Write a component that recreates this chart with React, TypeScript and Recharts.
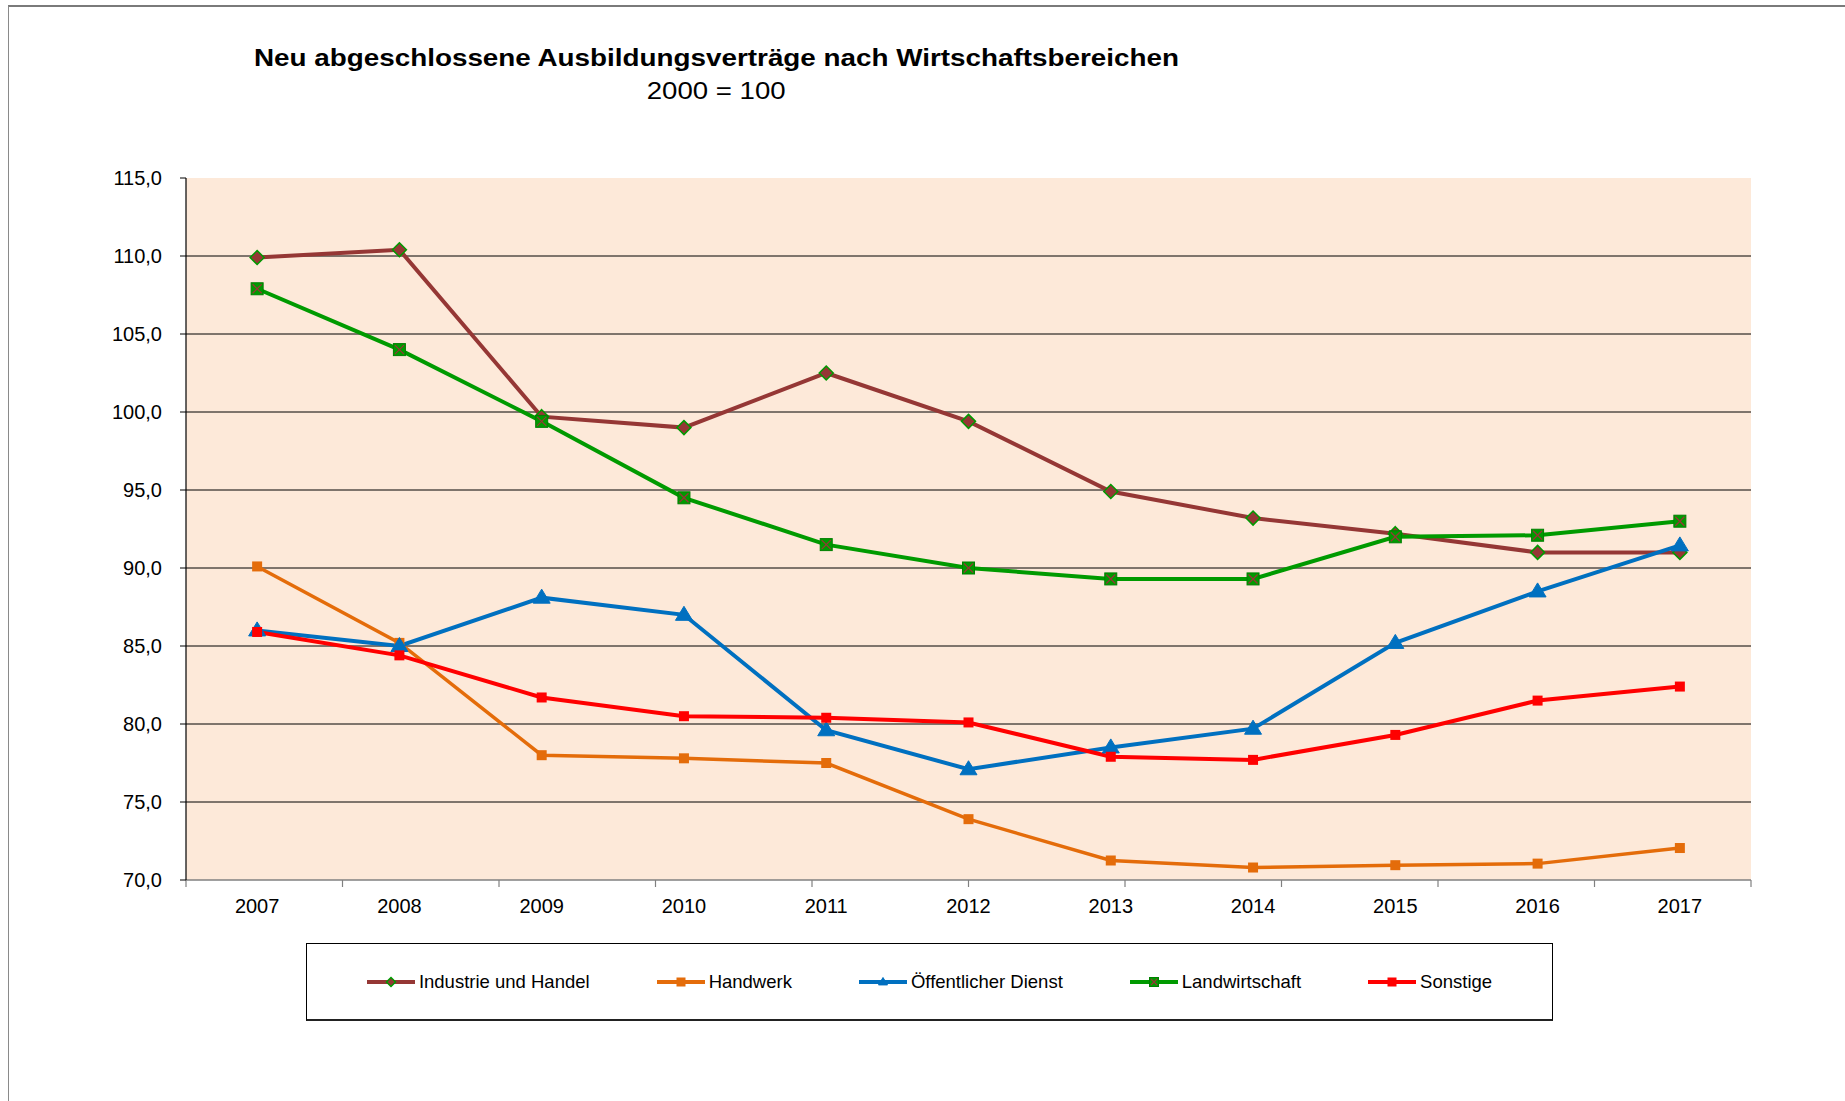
import React from 'react';
import { LineChart, Line, XAxis, YAxis, CartesianGrid } from 'recharts';

const years = ['2007', '2008', '2009', '2010', '2011', '2012', '2013', '2014', '2015', '2016', '2017'];
const industrie = [109.9, 110.4, 99.7, 99.0, 102.5, 99.4, 94.9, 93.2, 92.2, 91.0, 91.0];
const handwerk = [90.1, 85.2, 78.0, 77.8, 77.5, 73.9, 71.25, 70.8, 70.95, 71.05, 72.05];
const oeffentlich = [86.0, 85.0, 88.1, 87.0, 79.6, 77.1, 78.5, 79.7, 85.2, 88.5, 91.45];
const landwirtschaft = [107.9, 104.0, 99.4, 94.5, 91.5, 90.0, 89.3, 89.3, 92.0, 92.1, 93.0];
const sonstige = [85.9, 84.4, 81.7, 80.5, 80.4, 80.1, 77.9, 77.7, 79.3, 81.5, 82.4];

const yTicks = [70, 75, 80, 85, 90, 95, 100, 105, 110, 115];
const gridValues = [75, 80, 85, 90, 95, 100, 105, 110];
const boundaryTicks = [0, 1, 2, 3, 4, 5, 6, 7, 8, 9, 10, 11];

const title = 'Neu abgeschlossene Ausbildungsverträge nach Wirtschaftsbereichen';
const subtitle = '2000 = 100';

const FONT = "'Liberation Sans', Arial, sans-serif";

const data = years.map((y, i) => ({
  year: y,
  industrie: industrie[i],
  handwerk: handwerk[i],
  oeffentlich: oeffentlich[i],
  landwirtschaft: landwirtschaft[i],
  sonstige: sonstige[i],
}));

type Shape = 'diamond' | 'square' | 'triangle' | 'xsquare';

const series: { key: string; name: string; color: string; shape: Shape; size: number; width: number }[] = [
  { key: 'industrie', name: 'Industrie und Handel', color: '#953735', shape: 'diamond', size: 7, width: 4 },
  { key: 'handwerk', name: 'Handwerk', color: '#E46C0A', shape: 'square', size: 5, width: 3.5 },
  { key: 'oeffentlich', name: 'Öffentlicher Dienst', color: '#0070C0', shape: 'triangle', size: 8.5, width: 4 },
  { key: 'landwirtschaft', name: 'Landwirtschaft', color: '#009A00', shape: 'xsquare', size: 6, width: 4 },
  { key: 'sonstige', name: 'Sonstige', color: '#FF0000', shape: 'square', size: 5, width: 4 },
];

function Marker({ cx, cy, shape, color, s }: { cx: number; cy: number; shape: Shape; color: string; s: number }) {
  if (shape === 'diamond') {
    return (
      <polygon
        points={`${cx},${cy - s} ${cx + s},${cy} ${cx},${cy + s} ${cx - s},${cy}`}
        fill={color}
        stroke="#009A00"
        strokeWidth={1.5}
      />
    );
  }
  if (shape === 'triangle') {
    return (
      <polygon
        points={`${cx},${cy - s} ${cx + s},${cy + s * 0.65} ${cx - s},${cy + s * 0.65}`}
        fill={color}
        stroke={color}
        strokeWidth={1}
      />
    );
  }
  if (shape === 'xsquare') {
    const d = s - 1.5;
    return (
      <g>
        <rect x={cx - s} y={cy - s} width={s * 2} height={s * 2} fill={color} stroke="#008000" strokeWidth={1} />
        <line x1={cx - d} y1={cy - d} x2={cx + d} y2={cy + d} stroke="#953735" strokeWidth={1.3} />
        <line x1={cx - d} y1={cy + d} x2={cx + d} y2={cy - d} stroke="#953735" strokeWidth={1.3} />
      </g>
    );
  }
  return <rect x={cx - s} y={cy - s} width={s * 2} height={s * 2} fill={color} />;
}

function makeDot(shape: Shape, color: string, s: number) {
  return (props: any) => {
    const { cx, cy, index } = props;
    if (cx == null || cy == null) return <g key={`e-${index}`} />;
    return (
      <g key={`d-${index}`}>
        <Marker cx={cx} cy={cy} shape={shape} color={color} s={s} />
      </g>
    );
  };
}

function LegendBox() {
  return (
    <div
      style={{
        position: 'absolute',
        left: 306,
        top: 943,
        width: 1247,
        height: 78,
        boxSizing: 'border-box',
        border: '1px solid #000',
        borderBottom: '2px solid #222',
        display: 'flex',
        alignItems: 'center',
        justifyContent: 'center',
        gap: 67,
        fontFamily: FONT,
        fontSize: 18.5,
        color: '#000',
        background: '#fff',
      }}
    >
      {series.map((s) => (
        <div key={s.key} style={{ display: 'flex', alignItems: 'center' }}>
          <svg width={48} height={16} style={{ display: 'block' }}>
            <line x1={0} y1={8} x2={48} y2={8} stroke={s.color} strokeWidth={4} />
            <Marker cx={24} cy={8} shape={s.shape} color={s.color} s={4.5} />
          </svg>
          <span style={{ marginLeft: 4, whiteSpace: 'nowrap' }}>{s.name}</span>
        </div>
      ))}
    </div>
  );
}

export default function App() {
  return (
    <div style={{ position: 'absolute', left: 0, top: 0, width: 1845, height: 1101, background: '#fff', overflow: 'hidden' }}>
      <div
        style={{
          position: 'absolute',
          left: 8,
          top: 5,
          width: 1845,
          height: 1101,
          borderTop: '2px solid #7a7a7a',
          borderLeft: '1px solid #8a8a8a',
        }}
      />
      <svg width={1845} height={120} style={{ position: 'absolute', left: 0, top: 0 }}>
        <text
          x={716.5}
          y={65.7}
          textAnchor="middle"
          fontFamily={FONT}
          fontWeight="bold"
          fontSize={23}
          textLength={925}
          lengthAdjust="spacingAndGlyphs"
          fill="#000"
        >
          {title}
        </text>
        <text
          x={716.2}
          y={99.3}
          textAnchor="middle"
          fontFamily={FONT}
          fontSize={24}
          textLength={139}
          lengthAdjust="spacingAndGlyphs"
          fill="#000"
        >
          {subtitle}
        </text>
      </svg>
      <div style={{ position: 'absolute', left: 0, top: 0 }}>
        <LineChart
          width={1845}
          height={1101}
          data={data}
          margin={{ top: 178, right: 94, left: 0, bottom: 190 }}
          style={{ fontFamily: FONT }}
        >
          <CartesianGrid
            xAxisId="years"
            vertical={false}
            horizontalValues={gridValues}
            stroke="#000"
            strokeWidth={1}
            fill="#FDE9D9"
            fillOpacity={1}
          />
          <XAxis
            xAxisId="bounds"
            type="number"
            domain={[0, 11]}
            ticks={boundaryTicks}
            tickFormatter={() => ''}
            tickSize={7}
            height={1}
            allowDataOverflow
            axisLine={{ stroke: '#808080', strokeWidth: 1.5 }}
            tickLine={{ stroke: '#808080', strokeWidth: 1.2 }}
          />
          <XAxis
            xAxisId="years"
            dataKey="year"
            scale="band"
            height={30}
            interval={0}
            tickLine={false}
            axisLine={false}
            tickSize={6}
            tickMargin={12}
            tick={{ fill: '#000', fontSize: 20, fontFamily: FONT }}
          />
          <YAxis
            width={186}
            domain={[70, 115]}
            ticks={yTicks}
            interval={0}
            tickSize={6}
            tickMargin={18}
            tickFormatter={(v: number) => v.toFixed(1).replace('.', ',')}
            tick={{ fill: '#000', fontSize: 20, fontFamily: FONT }}
            axisLine={{ stroke: '#000', strokeWidth: 1.2 }}
            tickLine={{ stroke: '#000', strokeWidth: 1 }}
          />
          {series.map((s) => (
            <Line
              key={s.key}
              xAxisId="years"
              dataKey={s.key}
              name={s.name}
              type="linear"
              stroke={s.color}
              strokeWidth={s.width}
              dot={makeDot(s.shape, s.color, s.size)}
              activeDot={false}
              isAnimationActive={false}
            />
          ))}
        </LineChart>
      </div>
      <LegendBox />
    </div>
  );
}
